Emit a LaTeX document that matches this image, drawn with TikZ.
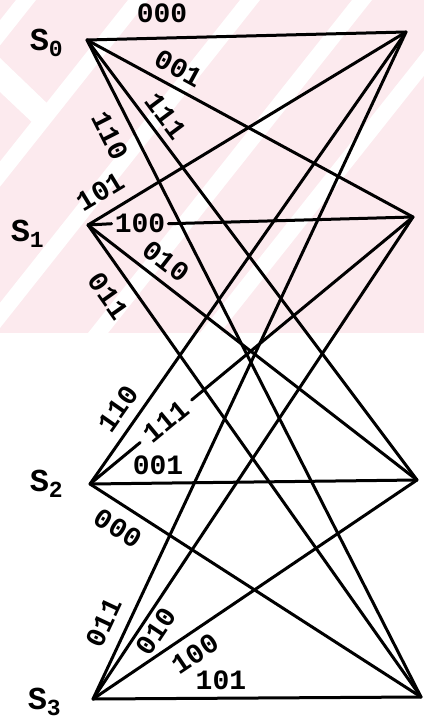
\documentclass[tikz,border=0pt]{standalone}
\usepackage{fontspec}
\setmonofont{Liberation Mono}
\usetikzlibrary{positioning}
\definecolor{markpink}{RGB}{252,234,238}

\newcommand{\stname}[1]{S\raisebox{-0.35ex}{\fontsize{23}{23}\selectfont #1}}

\begin{document}
\begin{tikzpicture}[x=1pt,y=-1pt,line cap=round,line join=round,
  branch/.style={line width=3pt},
  bits/.style={font=\ttfamily\bfseries\fontsize{28}{28}\selectfont,inner sep=0pt},
  sbits/.style={bits,sloped},
  stlabel/.style={font=\ttfamily\bfseries\fontsize{32}{32}\selectfont,inner sep=0pt}]
\useasboundingbox (0,0) rectangle (424,722);
% watermark behind the upper half
\begin{scope}
  \clip (0,0) rectangle (424,333);
  \fill[markpink] (0,0) rectangle (424,333);
  \foreach \x in {-320,-208,...,464}
    \fill[white] (\x,0) -- (\x+20,0) -- (\x-244,333) -- (\x-264,333) -- cycle;
  \fill[white] (0,58) -- (52,108) -- (36,126) -- (0,92) -- cycle;
\end{scope}
% states, left and right column
\coordinate (l0) at (87,40);  \coordinate (r0) at (406,32);
\coordinate (l1) at (88,225); \coordinate (r1) at (413,217);
\coordinate (l2) at (90,484); \coordinate (r2) at (417,480);
\coordinate (l3) at (93,699); \coordinate (r3) at (421,697);
\node[stlabel,left=24pt of l0,yshift=-3pt] (s0) {\stname{0}};
\node[stlabel,left=44pt of l1,yshift=-9pt] (s1) {\stname{1}};
\node[stlabel,left=27pt of l2] (s2) {\stname{2}};
\node[stlabel,left=32pt of l3,yshift=-3pt] (s3) {\stname{3}};
% from S0
\draw[branch] (l0) -- node[bits,pos=0.235,above=14pt] (b00) {000} (r0);
\draw[branch] (l0) -- node[sbits,pos=0.254,above=8pt] (b01) {001} (r1);
\draw[branch] (l0) -- node[sbits,pos=0.197,above=7pt] (b02) {111} (r2);
\draw[branch] (l0) -- node[sbits,pos=0.13,below=12pt] (b03) {110} (r3);
% from S1
\draw[branch] (l1) -- node[sbits,pos=0.075,above=11pt] (b10) {101} (r0);
\path (l1) -- node[bits,pos=0.16,inner xsep=3pt] (b11) {100} (r1);
\draw[branch] (l1) -- (b11.west) (b11.east) -- (r1);
\draw[branch] (l1) -- node[sbits,pos=0.202,above=8pt] (b12) {010} (r2);
\draw[branch] (l1) -- node[sbits,pos=0.121,below=13pt] (b13) {011} (r3);
% from S2
\draw[branch] (l2) -- node[sbits,pos=0.141,above=9pt] (b20) {110} (r0);
\path (l2) -- node[sbits,pos=0.235,inner xsep=8pt] (b21) {111} (r1);
\draw[branch] (l2) -- (b21.west) (b21.east) -- (r1);
\draw[branch] (l2) -- node[bits,pos=0.208,above=7pt] (b22) {001} (r2);
\draw[branch] (l2) -- node[sbits,pos=0.121,below=11pt] (b23) {000} (r3);
% from S3
\draw[branch] (l3) -- node[sbits,pos=0.1,above=12pt] (b30) {011} (r0);
\draw[branch] (l3) -- node[sbits,pos=0.158,below=4pt] (b31) {010} (r1);
\draw[branch] (l3) -- node[sbits,pos=0.281,below=9pt] (b32) {100} (r2);
\draw[branch] (l3) -- node[bits,pos=0.39,above=7pt] (b33) {101} (r3);
\end{tikzpicture}
\end{document}
